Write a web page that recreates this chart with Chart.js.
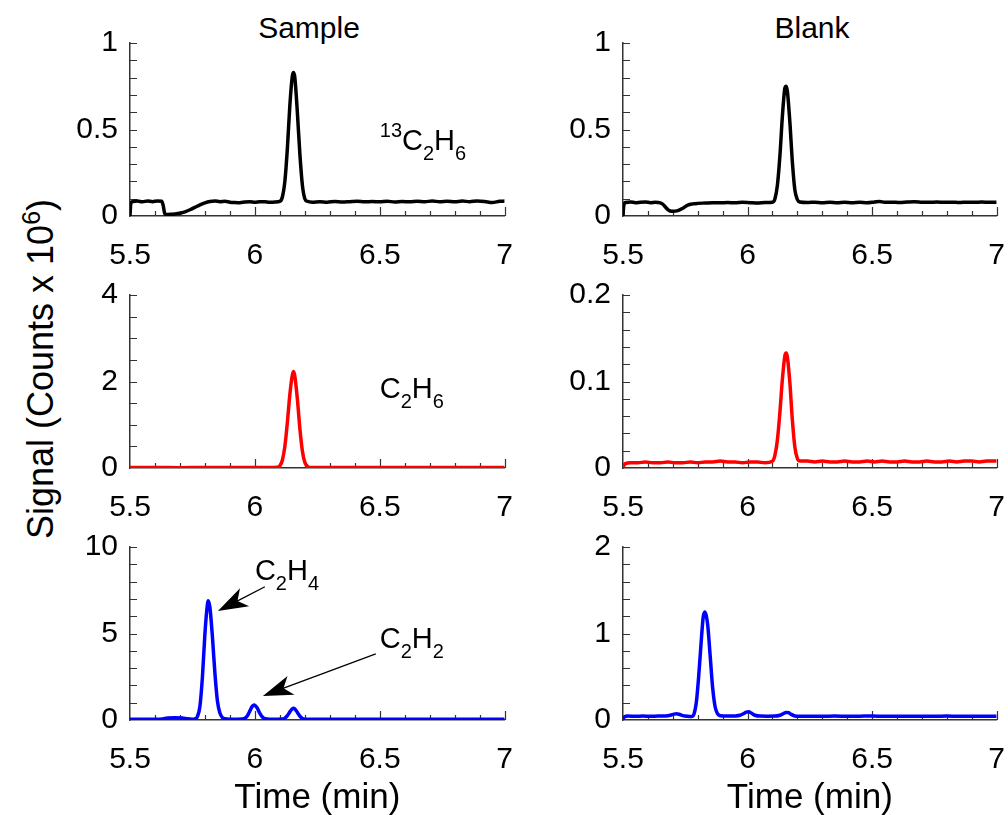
<!DOCTYPE html>
<html>
<head>
<meta charset="utf-8">
<title>Sample vs Blank chromatograms</title>
<script src="https://cdn.jsdelivr.net/npm/chart.js@4.4.1/dist/chart.umd.min.js"></script>
<style>
  body { margin: 0; background: #fff; font-family: "Liberation Sans", Arial, sans-serif; }
  #fig { position: relative; width: 1008px; height: 815px; overflow: hidden; }
  #fig canvas { position: absolute; }
  .lbl { position: absolute; color: #000; white-space: nowrap; }
  .col-title { font-size: 30px; line-height: 30px; width: 200px; text-align: center; top: 13px; }
  #ytitle { font-size: 36px; line-height: 40px; width: 500px; height: 40px; left: -209px; top: 349px;
            text-align: center; transform: rotate(-90deg); }
  #ytitle sup { font-size: 25px; line-height: 0; }
</style>
</head>
<body>
<div id="fig">
  <div class="lbl col-title" style="left:209px">Sample</div>
  <div class="lbl col-title" style="left:712px">Blank</div>
  <div class="lbl" id="ytitle">Signal (Counts x 10<sup>6</sup>)</div>
  <canvas id="p0"></canvas>
  <canvas id="p1"></canvas>
  <canvas id="p2"></canvas>
  <canvas id="p3"></canvas>
  <canvas id="p4"></canvas>
  <canvas id="p5"></canvas>
</div>
<script>
// ---- data ----
const xTicks = [5.5, 6, 6.5, 7];

// row 1: 13C2H6 (black)
const yTicksIso = [0, 0.5, 1];
const sampleIsoTime = [5.500, 5.503, 5.51, 5.53, 5.55, 5.57, 5.59, 5.61, 5.627, 5.633, 5.639, 5.645, 5.66, 5.68, 5.70, 5.72, 5.74, 5.76, 5.78, 5.80, 5.82, 5.84, 5.86, 5.88, 5.90, 5.92, 5.94, 5.96, 5.98, 6.00, 6.02, 6.04, 6.06, 6.08, 6.10, 6.11, 6.12, 6.13, 6.14, 6.15, 6.155, 6.16, 6.17, 6.18, 6.19, 6.20, 6.21, 6.23, 6.26, 6.29, 6.32, 6.35, 6.38, 6.41, 6.44, 6.47, 6.50, 6.53, 6.56, 6.59, 6.62, 6.65, 6.68, 6.71, 6.74, 6.77, 6.80, 6.83, 6.86, 6.89, 6.92, 6.95, 6.98, 7.00];
const sampleIsoSignal = [0.000, 0.070, 0.083, 0.086, 0.082, 0.087, 0.083, 0.087, 0.085, 0.060, 0.015, 0.008, 0.010, 0.012, 0.016, 0.024, 0.036, 0.050, 0.064, 0.076, 0.084, 0.087, 0.083, 0.085, 0.080, 0.078, 0.077, 0.081, 0.083, 0.080, 0.083, 0.082, 0.079, 0.081, 0.085, 0.11, 0.20, 0.39, 0.64, 0.81, 0.83, 0.80, 0.60, 0.36, 0.18, 0.10, 0.085, 0.080, 0.082, 0.080, 0.084, 0.081, 0.083, 0.085, 0.082, 0.084, 0.082, 0.085, 0.081, 0.084, 0.082, 0.085, 0.083, 0.086, 0.083, 0.085, 0.082, 0.086, 0.083, 0.087, 0.084, 0.078, 0.085, 0.086];

const blankIsoTime = [5.500, 5.503, 5.51, 5.53, 5.55, 5.57, 5.59, 5.61, 5.63, 5.65, 5.66, 5.67, 5.68, 5.69, 5.70, 5.72, 5.74, 5.76, 5.78, 5.80, 5.83, 5.86, 5.89, 5.92, 5.95, 5.98, 6.01, 6.04, 6.07, 6.10, 6.11, 6.12, 6.13, 6.14, 6.15, 6.155, 6.16, 6.17, 6.18, 6.19, 6.20, 6.21, 6.24, 6.27, 6.30, 6.33, 6.36, 6.39, 6.42, 6.45, 6.48, 6.51, 6.53, 6.55, 6.58, 6.61, 6.64, 6.67, 6.70, 6.73, 6.76, 6.79, 6.82, 6.85, 6.88, 6.91, 6.94, 6.97, 7.00];
const blankIsoSignal = [0.000, 0.060, 0.078, 0.081, 0.077, 0.080, 0.081, 0.077, 0.079, 0.076, 0.068, 0.052, 0.037, 0.029, 0.027, 0.031, 0.045, 0.063, 0.070, 0.073, 0.075, 0.077, 0.076, 0.078, 0.076, 0.079, 0.077, 0.075, 0.078, 0.080, 0.10, 0.18, 0.35, 0.58, 0.74, 0.75, 0.72, 0.54, 0.31, 0.15, 0.095, 0.081, 0.078, 0.080, 0.077, 0.079, 0.076, 0.079, 0.077, 0.079, 0.076, 0.081, 0.084, 0.079, 0.080, 0.078, 0.081, 0.083, 0.080, 0.079, 0.081, 0.079, 0.080, 0.078, 0.080, 0.079, 0.081, 0.079, 0.080];

// row 2: C2H6 (red)
const yTicksSampleEth = [0, 2, 4];
const sampleEthTime = [5.50, 5.60, 5.70, 5.80, 5.90, 6.00, 6.05, 6.09, 6.10, 6.11, 6.12, 6.13, 6.14, 6.15, 6.155, 6.16, 6.17, 6.18, 6.19, 6.20, 6.21, 6.22, 6.30, 6.40, 6.50, 6.60, 6.70, 6.80, 6.90, 7.00];
const sampleEthSignal = [0.010, 0.010, 0.008, 0.010, 0.009, 0.010, 0.010, 0.015, 0.05, 0.18, 0.50, 1.05, 1.70, 2.15, 2.23, 2.12, 1.60, 0.92, 0.40, 0.13, 0.04, 0.012, 0.010, 0.010, 0.009, 0.010, 0.010, 0.009, 0.010, 0.010];

const yTicksBlankEth = [0, 0.1, 0.2];
const blankEthTime = [5.50, 5.51, 5.53, 5.56, 5.59, 5.62, 5.65, 5.68, 5.71, 5.74, 5.77, 5.80, 5.83, 5.86, 5.89, 5.92, 5.95, 5.98, 6.01, 6.04, 6.07, 6.10, 6.11, 6.12, 6.13, 6.14, 6.15, 6.155, 6.16, 6.17, 6.18, 6.19, 6.20, 6.21, 6.24, 6.27, 6.30, 6.33, 6.36, 6.39, 6.42, 6.45, 6.48, 6.51, 6.54, 6.57, 6.60, 6.63, 6.66, 6.69, 6.72, 6.75, 6.78, 6.81, 6.84, 6.87, 6.90, 6.93, 6.96, 7.00];
const blankEthSignal = [0.002, 0.005, 0.006, 0.006, 0.007, 0.006, 0.006, 0.007, 0.006, 0.006, 0.007, 0.006, 0.007, 0.007, 0.008, 0.007, 0.007, 0.006, 0.007, 0.007, 0.006, 0.008, 0.015, 0.033, 0.065, 0.103, 0.130, 0.133, 0.128, 0.098, 0.055, 0.024, 0.011, 0.008, 0.008, 0.007, 0.008, 0.007, 0.007, 0.008, 0.007, 0.007, 0.008, 0.007, 0.008, 0.007, 0.007, 0.008, 0.007, 0.007, 0.008, 0.007, 0.007, 0.008, 0.007, 0.008, 0.008, 0.007, 0.008, 0.008];

// row 3: C2H4 / C2H2 (blue)
const yTicksSampleLow = [0, 5, 10];
const sampleLowTime = [5.50, 5.55, 5.60, 5.63, 5.65, 5.68, 5.71, 5.73, 5.75, 5.76, 5.77, 5.78, 5.79, 5.80, 5.81, 5.813, 5.82, 5.83, 5.84, 5.85, 5.86, 5.87, 5.88, 5.90, 5.93, 5.95, 5.96, 5.97, 5.98, 5.99, 5.997, 6.00, 6.01, 6.02, 6.03, 6.04, 6.06, 6.09, 6.11, 6.12, 6.13, 6.14, 6.15, 6.155, 6.16, 6.17, 6.18, 6.19, 6.20, 6.30, 6.40, 6.50, 6.60, 6.70, 6.80, 6.90, 7.00];
const sampleLowSignal = [0.05, 0.05, 0.05, 0.06, 0.12, 0.13, 0.12, 0.07, 0.05, 0.07, 0.20, 0.8, 2.5, 5.0, 6.7, 6.9, 6.5, 4.8, 2.7, 1.1, 0.4, 0.14, 0.07, 0.05, 0.05, 0.06, 0.10, 0.25, 0.53, 0.80, 0.87, 0.85, 0.68, 0.38, 0.17, 0.08, 0.05, 0.05, 0.06, 0.11, 0.25, 0.47, 0.65, 0.68, 0.64, 0.44, 0.22, 0.09, 0.05, 0.05, 0.05, 0.05, 0.05, 0.05, 0.05, 0.05, 0.05];

const yTicksBlankLow = [0, 1, 2];
const blankLowTime = [5.500, 5.505, 5.52, 5.55, 5.58, 5.61, 5.64, 5.67, 5.69, 5.705, 5.715, 5.725, 5.74, 5.76, 5.775, 5.785, 5.795, 5.805, 5.815, 5.822, 5.828, 5.834, 5.84, 5.85, 5.86, 5.87, 5.88, 5.89, 5.92, 5.95, 5.97, 5.985, 5.995, 6.005, 6.015, 6.03, 6.05, 6.08, 6.11, 6.13, 6.145, 6.155, 6.165, 6.175, 6.19, 6.21, 6.25, 6.30, 6.35, 6.40, 6.45, 6.50, 6.55, 6.60, 6.65, 6.70, 6.75, 6.80, 6.85, 6.90, 6.95, 7.00];
const blankLowSignal = [0.010, 0.035, 0.045, 0.042, 0.045, 0.043, 0.045, 0.047, 0.055, 0.068, 0.072, 0.066, 0.050, 0.042, 0.040, 0.070, 0.22, 0.55, 0.95, 1.19, 1.25, 1.21, 1.10, 0.74, 0.37, 0.15, 0.070, 0.050, 0.045, 0.047, 0.055, 0.075, 0.090, 0.095, 0.080, 0.055, 0.045, 0.044, 0.045, 0.055, 0.075, 0.088, 0.085, 0.065, 0.047, 0.042, 0.044, 0.042, 0.045, 0.043, 0.044, 0.046, 0.043, 0.044, 0.042, 0.044, 0.043, 0.045, 0.043, 0.044, 0.042, 0.044];

// ---- layout: where each plot area should sit on the page ----
const plotLeft = [130, 623];
const plotWidth = [375, 374];
const plotTop = [43, 295, 547];
const plotHeight = 173;
const axisWidth = 90;

Chart.defaults.font.family = '"Liberation Sans", Arial, sans-serif';
Chart.defaults.color = '#000';

function pairs(t, s) {
    return t.map((v, i) => ({ x: v, y: s[i] }));
}

// inward pointing tick marks (major and minor), drawn from the chart's own scales
const inwardTicks = {
    id: "inwardTicks",
    beforeDatasetsDraw(chart, args, opts) {
        const { ctx, scales: { x, y } } = chart;
        const xAxis = x.getPixelForValue(x.min);
        const yAxis = y.getPixelForValue(y.min);
        ctx.save();
        ctx.strokeStyle = "#333";
        ctx.lineWidth = 1.2;
        ctx.beginPath();
        let n = Math.round((x.max - x.min) / opts.xMinor);
        for (let i = 1; i <= n; i++) {
            const v = x.min + i * opts.xMinor;
            const major = xTicks.some((t) => Math.abs(t - v) < 1e-6);
            const px = Math.round(x.getPixelForValue(v)) + 0.5;
            ctx.moveTo(px, yAxis);
            ctx.lineTo(px, yAxis - (major ? 9 : 5));
        }
        n = Math.round((y.max - y.min) / opts.yMinor);
        for (let i = 1; i <= n; i++) {
            const v = y.min + i * opts.yMinor;
            const py = Math.round(y.getPixelForValue(v)) + 0.5;
            ctx.moveTo(xAxis, py);
            ctx.lineTo(xAxis + 7, py);
        }
        ctx.stroke();
        ctx.restore();
    },
};

// compound names with sub/superscripts, plus arrows pointing at peaks
const formulaLabels = {
    id: "formulaLabels",
    afterDatasetsDraw(chart, args, opts) {
        const { ctx, scales: { x, y } } = chart;
        ctx.save();
        ctx.fillStyle = "#000";
        ctx.strokeStyle = "#000";
        (opts.arrows || []).forEach((a) => {
            const x0 = x.getPixelForValue(a.from[0]), y0 = y.getPixelForValue(a.from[1]);
            const x1 = x.getPixelForValue(a.to[0]), y1 = y.getPixelForValue(a.to[1]);
            const ang = Math.atan2(y1 - y0, x1 - x0);
            const c = Math.cos(ang), s = Math.sin(ang);
            const pt = (along, side) => [x1 - along * c - side * s, y1 - along * s + side * c];
            ctx.lineWidth = 1.3;
            ctx.beginPath();
            ctx.moveTo(x0, y0);
            ctx.lineTo(...pt(20, 0));
            ctx.stroke();
            ctx.beginPath();
            ctx.moveTo(x1, y1);
            ctx.lineTo(...pt(30, 10));
            ctx.lineTo(...pt(22, 0));
            ctx.lineTo(...pt(30, -10));
            ctx.closePath();
            ctx.fill();
        });
        ctx.textAlign = "left";
        ctx.textBaseline = "alphabetic";
        (opts.texts || []).forEach((tx) => {
            let px = x.getPixelForValue(tx.at[0]);
            const py = y.getPixelForValue(tx.at[1]);
            tx.parts.forEach(([str, kind]) => {
                const size = kind ? 20 : 29;
                const dy = kind === "sub" ? 10 : kind === "sup" ? -13 : 0;
                ctx.font = size + 'px "Liberation Sans", Arial, sans-serif';
                ctx.fillText(str, px, py + dy);
                px += ctx.measureText(str).width;
            });
        });
        ctx.restore();
    },
};

function panelConfig(p, bottom) {
    return {
        type: "line",
        data: {
            datasets: [{
                data: pairs(p.time, p.signal),
                borderColor: p.color,
                borderWidth: 3.5,
                pointRadius: 0,
                cubicInterpolationMode: "monotone",
                fill: false,
            }],
        },
        options: {
            responsive: false,
            maintainAspectRatio: false,
            animation: false,
            events: [],
            layout: { padding: { top: 4, right: 4, left: 0, bottom: 0 } },
            plugins: {
                legend: { display: false },
                tooltip: { enabled: false },
                inwardTicks: { xMinor: 0.1, yMinor: p.yMinor },
                formulaLabels: { texts: p.texts || [], arrows: p.arrows || [] },
            },
            scales: {
                x: {
                    type: "linear",
                    min: xTicks[0],
                    max: xTicks[xTicks.length - 1],
                    grid: { display: false, drawTicks: false },
                    border: { display: true, color: "#333", width: 1.5 },
                    afterBuildTicks: (s) => { s.ticks = xTicks.map((v) => ({ value: v })); },
                    afterFit: (s) => { s.height = bottom ? 95 : 50; },
                    ticks: { padding: 22, maxRotation: 0, autoSkip: false, font: { size: 30 }, color: "#000",
                             callback: (v) => String(v) },
                    title: { display: bottom, text: "Time (min)", font: { size: 35 }, color: "#000",
                             padding: { top: 0, bottom: -4 } },
                },
                y: {
                    type: "linear",
                    min: p.yTicks[0],
                    max: p.yTicks[p.yTicks.length - 1],
                    grid: { display: false, drawTicks: false },
                    border: { display: true, color: "#333", width: 1.5 },
                    afterBuildTicks: (s) => { s.ticks = p.yTicks.map((v) => ({ value: v })); },
                    afterFit: (s) => { s.width = axisWidth; },
                    ticks: { padding: 12, font: { size: 30 }, color: "#000", callback: (v) => String(v) },
                },
            },
        },
        plugins: [inwardTicks, formulaLabels],
    };
}

// build once to learn how much room the axes take, then size the canvas so the
// plot area lands exactly on the wanted spot
function makePanel(id, row, col, p) {
    const cv = document.getElementById(id);
    const bottom = row === 2;
    let w = axisWidth + plotWidth[col] + 40;
    let h = plotHeight + (bottom ? 95 : 50) + 30;
    cv.width = w;
    cv.height = h;
    let chart = new Chart(cv, panelConfig(p, bottom));
    let a = chart.chartArea;
    w = Math.round(plotWidth[col] + (w - (a.right - a.left)));
    h = Math.round(plotHeight + (h - (a.bottom - a.top)));
    chart.destroy();
    cv.width = w;
    cv.height = h;
    chart = new Chart(cv, panelConfig(p, bottom));
    a = chart.chartArea;
    cv.style.left = Math.round(plotLeft[col] - a.left) + "px";
    cv.style.top = Math.round(plotTop[row] - a.top) + "px";
    return chart;
}

makePanel("p0", 0, 0, {
    time: sampleIsoTime, signal: sampleIsoSignal, color: "#000000", yTicks: yTicksIso, yMinor: 0.1,
    texts: [{ at: [6.5, 0.38], parts: [["13", "sup"], ["C"], ["2", "sub"], ["H"], ["6", "sub"]] }],
});
makePanel("p1", 0, 1, {
    time: blankIsoTime, signal: blankIsoSignal, color: "#000000", yTicks: yTicksIso, yMinor: 0.1,
});
makePanel("p2", 1, 0, {
    time: sampleEthTime, signal: sampleEthSignal, color: "#ff0000", yTicks: yTicksSampleEth, yMinor: 0.5,
    texts: [{ at: [6.5, 1.62], parts: [["C"], ["2", "sub"], ["H"], ["6", "sub"]] }],
});
makePanel("p3", 1, 1, {
    time: blankEthTime, signal: blankEthSignal, color: "#ff0000", yTicks: yTicksBlankEth, yMinor: 0.02,
});
makePanel("p4", 2, 0, {
    time: sampleLowTime, signal: sampleLowSignal, color: "#0000ff", yTicks: yTicksSampleLow, yMinor: 1,
    texts: [
        { at: [6.0, 8.1], parts: [["C"], ["2", "sub"], ["H"], ["4", "sub"]] },
        { at: [6.5, 4.16], parts: [["C"], ["2", "sub"], ["H"], ["2", "sub"]] },
    ],
    arrows: [
        { from: [6.04, 7.7], to: [5.852, 6.3] },
        { from: [6.484, 3.82], to: [6.032, 1.39] },
    ],
});
makePanel("p5", 2, 1, {
    time: blankLowTime, signal: blankLowSignal, color: "#0000ff", yTicks: yTicksBlankLow, yMinor: 0.2,
});
</script>
</body>
</html>
